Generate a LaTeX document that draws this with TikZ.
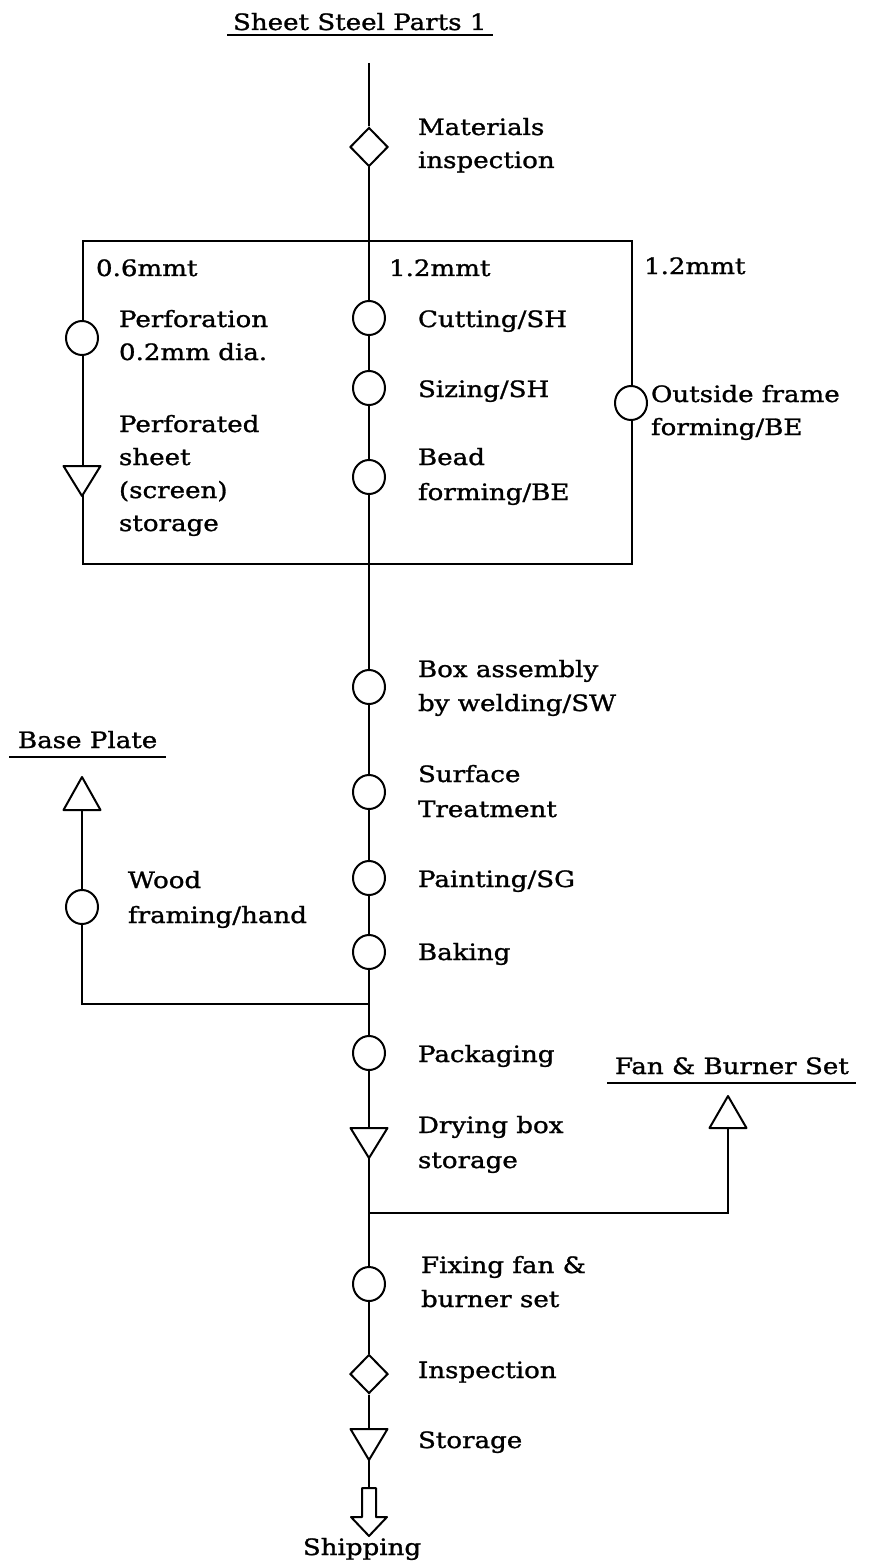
\documentclass[tikz,border=0pt]{standalone}
\usepackage{fontspec}
\setmainfont{DejaVu Serif}[FakeStretch=1.16,FakeBold=1.2]
\usetikzlibrary{shapes.geometric}
\tikzset{
  txt/.style={anchor=base west, inner sep=0pt, font=\fontsize{22.5}{26}\selectfont},
  op/.style={draw, ellipse, fill=white, minimum width=32pt, minimum height=34pt, inner sep=0pt},
  insp/.style={draw, diamond, fill=white, minimum width=38pt, minimum height=39pt, inner sep=0pt},
  tri/.style={draw, fill=white, line join=round},
  uline/.style={line width=1.6pt}
}
\begin{document}
\begin{tikzpicture}[x=1pt,y=-1pt,line width=2pt]
\useasboundingbox (0,0) rectangle (873,1562);
% title
\node[txt] (title) at (232,30) {Sheet Steel Parts 1};
\draw[uline] (227,35) -- (493,35);
\coordinate (top) at (369,63);
% box
\node[draw, minimum width=549pt, minimum height=323pt, anchor=north west, inner sep=0pt] (box) at (82,240) {};
% inspection
\node[insp] (d1) at (369,147) {};
\node[txt] (t1a) at (417,135) {Materials};
\node[txt] (t1b) at (417,168) {inspection};
% thickness labels
\node[txt] (m1) at (95,276) {0.6mmt};
\node[txt] (m2) at (388,276) {1.2mmt};
\node[txt] (m3) at (643,274) {1.2mmt};
% left column
\node[op] (cperf) at (82,338) {};
\node[txt] (tp1) at (118,327) {Perforation};
\node[txt] (tp2) at (118,360) {0.2mm dia.};
\draw[tri] (63.5,466) -- (100.5,466) -- (82,496) -- cycle;
\coordinate (perft) at (82,466);
\coordinate (perfb) at (82,496);
\node[txt] (ts1) at (118,432) {Perforated};
\node[txt] (ts2) at (118,465) {sheet};
\node[txt] (ts3) at (118,498) {(screen)};
\node[txt] (ts4) at (118,531) {storage};
% middle column
\node[op] (ccut) at (369,318) {};
\node[txt] (tc) at (417,327) {Cutting/SH};
\node[op] (csize) at (369,388) {};
\node[txt] (tz) at (417,397) {Sizing/SH};
\node[op] (cbead) at (369,477) {};
\node[txt] (tb1) at (417,465) {Bead};
\node[txt] (tb2) at (417,500) {forming/BE};
% right column
\node[op] (cout) at (631,403) {};
\node[txt] (to1) at (650,402) {Outside frame};
\node[txt] (to2) at (650,435) {forming/BE};
% main column below box
\node[op] (cbox) at (369,687) {};
\node[txt] (tx1) at (417,677) {Box assembly};
\node[txt] (tx2) at (417,711) {by welding/SW};
\node[op] (csurf) at (369,792) {};
\node[txt] (tf1) at (417,782) {Surface};
\node[txt] (tf2) at (417,817) {Treatment};
\node[op] (cpaint) at (369,878) {};
\node[txt] (tpa) at (417,887) {Painting/SG};
\node[op] (cbake) at (369,952) {};
\node[txt] (tba) at (417,960) {Baking};
\coordinate (j1) at (369,1004);
\node[op] (cpack) at (369,1053) {};
\node[txt] (tpk) at (417,1062) {Packaging};
\draw[tri] (350.5,1128) -- (387.5,1128) -- (369,1158) -- cycle;
\coordinate (dryt) at (369,1128);
\coordinate (dryb) at (369,1158);
\node[txt] (td1) at (417,1133) {Drying box};
\node[txt] (td2) at (417,1168) {storage};
\coordinate (j2) at (369,1213);
\node[op] (cfix) at (369,1284) {};
\node[txt] (tfx1) at (420,1273) {Fixing fan \&};
\node[txt] (tfx2) at (420,1307) {burner set};
\node[insp] (d2) at (369,1374) {};
\node[txt] (ti) at (417,1378) {Inspection};
\draw[tri] (350.5,1429) -- (387.5,1429) -- (369,1460) -- cycle;
\coordinate (stt) at (369,1429);
\coordinate (stb) at (369,1460);
\node[txt] (tst) at (417,1448) {Storage};
\draw[tri] (362,1488) -- (376,1488) -- (376,1517) -- (387,1517) -- (369,1536) -- (351,1517) -- (362,1517) -- cycle;
\coordinate (shipt) at (369,1488);
\node[txt, anchor=base] (tsh) at (362,1555) {Shipping};
% base plate branch
\node[txt] (tbp) at (17,748) {Base Plate};
\draw[uline] (9,757) -- (166,757);
\draw[tri] (82,777) -- (100.5,810) -- (63.5,810) -- cycle;
\coordinate (bpb) at (82,810);
\node[op] (cwood) at (82,907) {};
\node[txt] (tw1) at (127,888) {Wood};
\node[txt] (tw2) at (127,923) {framing/hand};
\coordinate (k1) at (82,1004);
% fan & burner branch
\node[txt] (tfb) at (614,1074) {Fan \& Burner Set};
\draw[uline] (607,1083) -- (856,1083);
\draw[tri] (728,1096) -- (746.5,1128) -- (709.5,1128) -- cycle;
\coordinate (fbb) at (728,1128);
\coordinate (k2) at (728,1213);
% connectors
\draw (top) -- (d1);
\draw (d1) -- (ccut);
\draw (ccut) -- (csize);
\draw (csize) -- (cbead);
\draw (cbead) -- (cbox);
\draw (cbox) -- (csurf);
\draw (csurf) -- (cpaint);
\draw (cpaint) -- (cbake);
\draw (cbake) -- (j1) -- (cpack);
\draw (cpack) -- (dryt);
\draw (dryb) -- (j2) -- (cfix);
\draw (cfix) -- (d2);
\draw (d2) -- (stt);
\draw (stb) -- (shipt);
\draw (j1) -- (k1) -- (cwood);
\draw (cwood) -- (bpb);
\draw (j2) -- (k2) -- (fbb);
\end{tikzpicture}
\end{document}
